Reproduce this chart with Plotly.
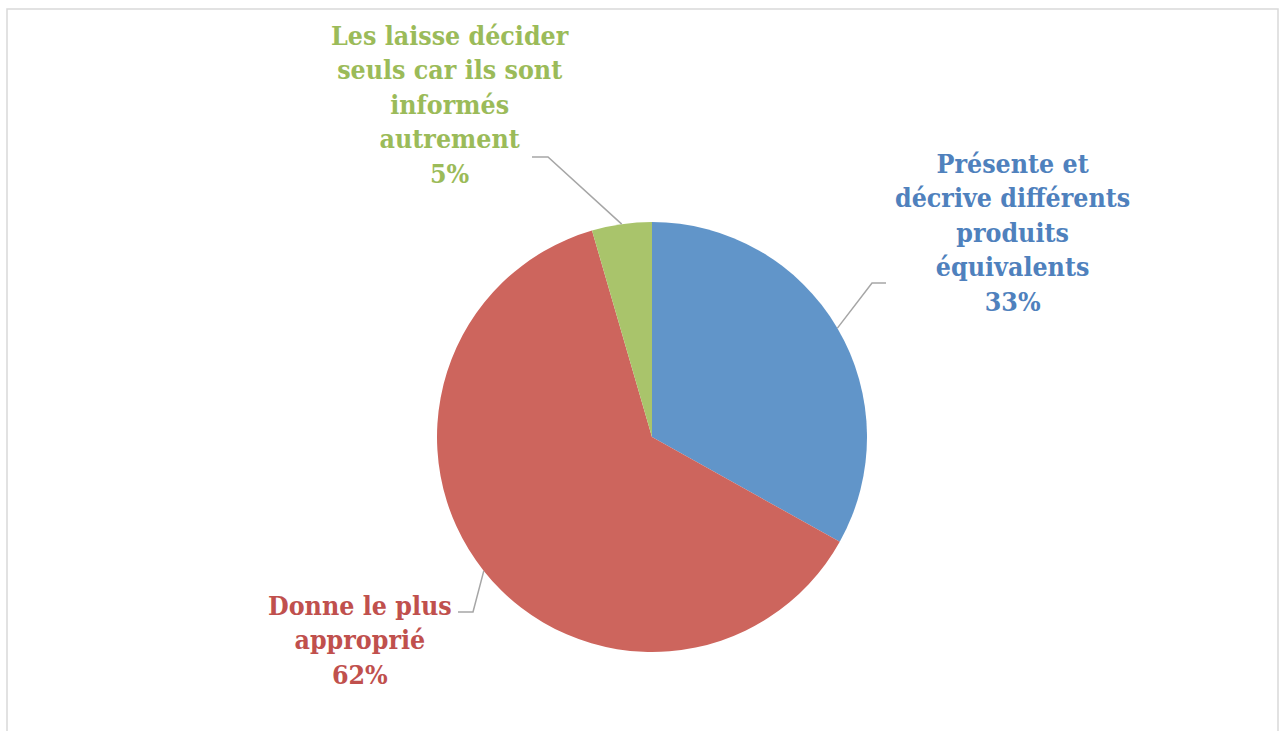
import math
import plotly.graph_objects as go

labels = ["Présente et décrive différents produits équivalents", "Donne le plus approprié", "Les laisse décider seuls car ils sont informés autrement"]
label_lines = [
    ["Présente et", "décrive différents", "produits", "équivalents"],
    ["Donne le plus", "approprié"],
    ["Les laisse décider", "seuls car ils sont", "informés", "autrement"],
]
values = [33.1, 62.4, 4.5]
pct_text = ["33%", "62%", "5%"]
slice_colors = ["#6195C9", "#CD655D", "#A9C46B"]
text_colors = ["#4F81BD", "#C0504D", "#9BBB59"]

W, H = 1282, 731
cx, cy, R = 652, 437, 215

def px(x):
    return x / W

def py(y):
    return 1 - y / H

fig = go.Figure()
fig.add_trace(go.Pie(
    labels=labels, values=values, sort=False, direction="clockwise", rotation=0,
    marker=dict(colors=slice_colors, line=dict(width=0)),
    textinfo="none", hoverinfo="label", showlegend=False,
    domain=dict(x=[px(cx - R), px(cx + R)], y=[py(cy + R), py(cy - R)]),
))

# label block centers (pixels) and leader elbows
label_centers = [(1012, 233), (360, 640), (450, 104)]
elbows = [((872, 283), (886, 283)), ((473, 612), (458, 612)), ((548, 157), (532, 157))]

total = sum(values)
cum = 0
shapes = []
annotations = []
for i, v in enumerate(values):
    mid = (cum + v / 2) / total * 2 * math.pi
    cum += v
    ex, ey = cx + R * math.sin(mid), cy - R * math.cos(mid)
    (bx, by), (tx, ty) = elbows[i]
    path = f"M {px(ex)} {py(ey)} L {px(bx)} {py(by)} L {px(tx)} {py(ty)}"
    shapes.append(dict(type="path", xref="paper", yref="paper", path=path,
                       line=dict(color="#A6A6A6", width=1.5)))
    txt = "<br>".join(label_lines[i] + [pct_text[i]])
    lx, ly = label_centers[i]
    annotations.append(dict(x=px(lx), y=py(ly), xref="paper", yref="paper", text=txt,
                            showarrow=False, xanchor="center", yanchor="middle", align="center",
                            font=dict(family="DejaVu Serif Condensed", size=26.5, color=text_colors[i], weight="bold")))

shapes.append(dict(type="rect", xref="paper", yref="paper", x0=px(7), x1=px(1278), y0=py(780), y1=py(9),
                   line=dict(color="#D9D9D9", width=1.5), fillcolor="rgba(0,0,0,0)"))

fig.update_layout(width=W, height=H, margin=dict(l=0, r=0, t=0, b=0),
                  paper_bgcolor="white", plot_bgcolor="white",
                  shapes=shapes, annotations=annotations)
fig.write_html("out.html", config={"displayModeBar": False},
               post_script="document.body.style.margin='0';document.body.style.overflow='hidden';")
